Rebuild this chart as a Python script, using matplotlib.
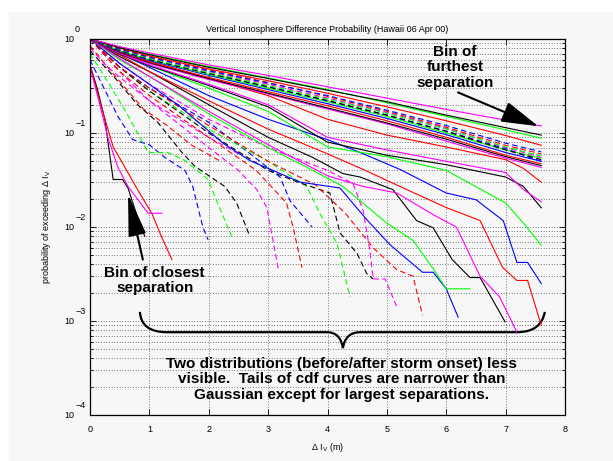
import matplotlib
matplotlib.use("Agg")
import matplotlib.pyplot as plt
from matplotlib.patches import Rectangle, PathPatch
from matplotlib.path import Path

plt.rcParams['font.family'] = ['Liberation Sans', 'DejaVu Sans']
plt.rcParams['mathtext.default'] = 'regular'

title = "Vertical Ionosphere Difference Probability (Hawaii 06 Apr 00)"
xlabel = "Δ I$_V$ (m)"
ylabel = "probability of exceeding Δ I$_V$"
xticks = [0, 1, 2, 3, 4, 5, 6, 7, 8]
ydecades = [-4, -3, -2, -1, 0]

# bins of largest separation, read at the same x points
far_x = [0, 0.5, 1, 2, 3, 4, 5, 6, 7, 7.6]
far_m1 = [1, 0.83, 0.71, 0.53, 0.41, 0.31, 0.235, 0.178, 0.137, 0.119]
far_k1 = [1, 0.81, 0.68, 0.50, 0.38, 0.285, 0.215, 0.155, 0.114, 0.095]
far_g1 = [1, 0.82, 0.69, 0.51, 0.385, 0.29, 0.21, 0.15, 0.108, 0.088]
far_r1 = [1, 0.80, 0.66, 0.48, 0.36, 0.265, 0.19, 0.135, 0.094, 0.074]
far_b1 = [1, 0.78, 0.64, 0.46, 0.34, 0.25, 0.175, 0.12, 0.078, 0.063]
far_r2 = [1, 0.79, 0.65, 0.47, 0.345, 0.245, 0.17, 0.115, 0.074, 0.060]
far_g2 = [1, 0.77, 0.62, 0.44, 0.32, 0.23, 0.162, 0.11, 0.071, 0.057]
far_k2 = [1, 0.76, 0.61, 0.43, 0.31, 0.222, 0.155, 0.104, 0.066, 0.052]
far_m2 = [1, 0.77, 0.63, 0.45, 0.33, 0.235, 0.165, 0.112, 0.070, 0.055]
far_g3 = [1, 0.75, 0.60, 0.42, 0.30, 0.215, 0.15, 0.10, 0.066, 0.054]
far_b2 = [1, 0.74, 0.59, 0.41, 0.29, 0.205, 0.143, 0.096, 0.062, 0.050]
far_r3 = [1, 0.73, 0.57, 0.39, 0.275, 0.195, 0.135, 0.09, 0.058, 0.047]
far_k3 = [1, 0.72, 0.56, 0.38, 0.265, 0.185, 0.128, 0.086, 0.056, 0.045]
far_b3 = [1, 0.75, 0.60, 0.43, 0.31, 0.22, 0.155, 0.105, 0.068, 0.050]
far_m3 = [1, 0.71, 0.55, 0.37, 0.26, 0.18, 0.125, 0.082, 0.054, 0.043]

# middle bins
mid_x = [0, 0.5, 1, 2, 3, 4, 5, 6, 7, 7.3, 7.6]
mid_r = [1, 0.74, 0.58, 0.38, 0.25, 0.14, 0.095, 0.071, 0.052, 0.042, 0.030]
mid_m = [1, 0.70, 0.53, 0.33, 0.20, 0.09, 0.066, 0.050, 0.038, 0.025, 0.0185]
mid_k = [1, 0.69, 0.52, 0.32, 0.19, 0.08, 0.058, 0.046, 0.034, 0.027, 0.016]
mid_g = [1, 0.70, 0.52, 0.30, 0.17, 0.071, 0.056, 0.040, 0.018, 0.011, 0.0064]

# bins whose tails reach the bottom of the sample
tail_b1_x = [0, 0.5, 1, 2, 3, 4, 4.55, 5.22, 6.0, 6.5, 6.96, 7.19, 7.37, 7.6]
tail_b1_p = [1, 0.7, 0.5, 0.25, 0.14, 0.085, 0.062, 0.041, 0.023, 0.0195, 0.0117, 0.0042, 0.0042, 0.0025]
tail_r1_x = [0, 0.5, 1, 2, 3, 4, 4.6, 5.22, 6.01, 6.57, 6.95, 7.19, 7.37, 7.6]
tail_r1_p = [1, 0.68, 0.45, 0.22, 0.11, 0.06, 0.041, 0.027, 0.016, 0.0117, 0.0037, 0.0027, 0.0027, 0.0009]
tail_m1_x = [0, 0.5, 1, 2, 3, 4, 4.6, 5.17, 5.78, 6.17, 6.57, 6.9, 7.19]
tail_m1_p = [1, 0.62, 0.4, 0.17, 0.075, 0.035, 0.027, 0.023, 0.0135, 0.01, 0.003, 0.0018, 0.00076]
tail_k1_x = [0, 0.5, 1, 2, 3, 3.75, 4.26, 4.55, 5.1, 5.5, 5.78, 6.1, 6.4, 6.57, 6.99]
tail_k1_p = [1, 0.65, 0.45, 0.2, 0.09, 0.055, 0.037, 0.034, 0.025, 0.0117, 0.0098, 0.0045, 0.0029, 0.0029, 0.00098]
tail_g1_x = [0, 0.5, 1, 2, 3, 3.6, 4.26, 5.0, 5.44, 5.78, 6.0, 6.4]
tail_g1_p = [1, 0.6, 0.4, 0.16, 0.07, 0.045, 0.027, 0.011, 0.0072, 0.0036, 0.0022, 0.0022]
tail_b2_x = [0, 0.5, 1, 1.52, 2.24, 2.69, 3.54, 4.21, 4.66, 5.05, 5.6, 5.78, 6.0, 6.2]
tail_b2_p = [1, 0.55, 0.33, 0.19, 0.078, 0.051, 0.03, 0.026, 0.012, 0.0065, 0.0033, 0.0033, 0.0022, 0.0011]

# dashed bins (other half of the day)
dash_r1_x = [0, 0.5, 1, 2, 3, 3.8, 4.3, 4.77, 5.17, 5.44, 5.6]
dash_r1_p = [1, 0.5, 0.3, 0.12, 0.05, 0.028, 0.014, 0.006, 0.0035, 0.003, 0.00115]
dash_m1_x = [0, 0.5, 1, 2, 3, 4, 4.43, 4.6, 4.71, 4.77, 4.97, 5.17]
dash_m1_p = [1, 0.55, 0.33, 0.14, 0.07, 0.04, 0.029, 0.015, 0.0058, 0.0028, 0.0028, 0.0014]
dash_g1_x = [0, 0.5, 1, 2, 3, 3.65, 3.87, 4.16, 4.38]
dash_g1_p = [1, 0.5, 0.28, 0.11, 0.05, 0.027, 0.014, 0.0067, 0.0018]
dash_k1_x = [0, 0.5, 1, 2, 3, 3.5, 4.04, 4.21, 4.5, 4.66, 4.77]
dash_k1_p = [1, 0.5, 0.28, 0.1, 0.04, 0.03, 0.023, 0.0087, 0.0052, 0.0032, 0.0028]
dash_r2_x = [0, 0.5, 1, 2, 2.8, 3.31, 3.42, 3.57]
dash_r2_p = [1, 0.45, 0.25, 0.09, 0.04, 0.018, 0.01, 0.0037]
dash_m2_x = [0, 0.5, 1, 2, 2.5, 2.81, 2.98, 3.17]
dash_m2_p = [1, 0.45, 0.22, 0.07, 0.04, 0.025, 0.016, 0.0036]
dash_b1_x = [0, 0.5, 1, 2, 2.7, 3.2, 3.37, 3.74]
dash_b1_p = [1, 0.5, 0.3, 0.13, 0.06, 0.034, 0.019, 0.01]
dash_g2_x = [0, 0.3, 0.6, 0.98, 1.31, 1.6, 1.99, 2.2, 2.39]
dash_g2_p = [0.7, 0.35, 0.17, 0.062, 0.062, 0.051, 0.032, 0.015, 0.0079]
dash_k2_x = [0, 0.4, 0.8, 1.14, 1.55, 1.77, 2.27, 2.47, 2.69]
dash_k2_p = [0.75, 0.4, 0.2, 0.13, 0.062, 0.044, 0.027, 0.018, 0.008]
dash_b2_x = [0, 0.47, 0.72, 1.0, 1.26, 1.6, 1.73, 1.9, 1.99]
dash_b2_p = [0.6, 0.15, 0.085, 0.075, 0.055, 0.04, 0.027, 0.01, 0.0073]
dash_r3_x = [0, 0.3, 0.6, 0.9, 1.3, 1.7, 2.2]
dash_r3_p = [0.85, 0.5, 0.3, 0.18, 0.12, 0.075, 0.05]
dash_m3_x = [0, 0.3, 0.6, 1.0, 1.5, 2.0, 2.5]
dash_m3_p = [0.8, 0.5, 0.35, 0.22, 0.14, 0.09, 0.06]

# bins of closest separation
near_k_x = [0, 0.12, 0.25, 0.39, 0.55, 0.64, 0.8, 0.92]
near_k_p = [0.53, 0.3, 0.14, 0.032, 0.032, 0.026, 0.0127, 0.008]
near_r_x = [0, 0.17, 0.39, 0.59, 0.8, 1.04, 1.2, 1.38]
near_r_p = [0.53, 0.21, 0.071, 0.043, 0.025, 0.014, 0.008, 0.0045]
near_m_x = [0, 0.15, 0.3, 0.47, 0.64, 0.98, 1.21]
near_m_p = [0.5, 0.22, 0.09, 0.043, 0.027, 0.014, 0.014]

C = {'r': '#ff0000', 'g': '#00ff00', 'b': '#0000ff', 'k': '#000000', 'm': '#ff00ff'}

curves = [
    (near_k_x, near_k_p, 'k', '-'), (near_r_x, near_r_p, 'r', '-'), (near_m_x, near_m_p, 'm', '-'),
    (dash_b2_x, dash_b2_p, 'b', '--'), (dash_g2_x, dash_g2_p, 'g', '--'), (dash_k2_x, dash_k2_p, 'k', '--'),
    (dash_r3_x, dash_r3_p, 'r', '--'), (dash_m3_x, dash_m3_p, 'm', '--'),
    (dash_m2_x, dash_m2_p, 'm', '--'), (dash_r2_x, dash_r2_p, 'r', '--'), (dash_b1_x, dash_b1_p, 'b', '--'),
    (dash_g1_x, dash_g1_p, 'g', '--'), (dash_k1_x, dash_k1_p, 'k', '--'), (dash_m1_x, dash_m1_p, 'm', '--'),
    (dash_r1_x, dash_r1_p, 'r', '--'),
    (tail_b2_x, tail_b2_p, 'b', '-'), (tail_g1_x, tail_g1_p, 'g', '-'), (tail_k1_x, tail_k1_p, 'k', '-'),
    (tail_m1_x, tail_m1_p, 'm', '-'), (tail_r1_x, tail_r1_p, 'r', '-'), (tail_b1_x, tail_b1_p, 'b', '-'),
    (mid_x, mid_g, 'g', '-'), (mid_x, mid_k, 'k', '-'), (mid_x, mid_m, 'm', '-'), (mid_x, mid_r, 'r', '-'),
    (far_x, far_m3, 'm', '-'), (far_x, far_k3, 'k', '-'), (far_x, far_r3, 'r', '-'), (far_x, far_b2, 'b', '-'),
    (far_x, far_g3, 'g', '-'), (far_x, far_b3, 'b', '--'), (far_x, far_m2, 'm', '--'), (far_x, far_k2, 'k', '--'),
    (far_x, far_g2, 'g', '--'), (far_x, far_r2, 'r', '--'), (far_x, far_b1, 'b', '--'),
    (far_x, far_r1, 'r', '-'), (far_x, far_g1, 'g', '-'), (far_x, far_k1, 'k', '-'), (far_x, far_m1, 'm', '-'),
]

fig = plt.figure(figsize=(6.13, 4.61), dpi=100, facecolor='white')
fig.patches.append(Rectangle((9 / 613, 0), 1, (461 - 12) / 461, transform=fig.transFigure,
                             color='#f7f7f7', zorder=-10))
ax = fig.add_axes([90 / 613, 46 / 461, 475 / 613, 376 / 461])
ax.set_facecolor('#f7f7f7')

for xs, ps, c, ls in curves:
    line, = ax.plot(xs, ps, color=C[c], lw=0.8)
    if ls == '--':
        line.set_dashes((5, 3))

ax.set_yscale('log')
ax.set_xlim(0, 8)
ax.set_ylim(1e-4, 1)
ax.set_xticks(xticks)
ax.set_xticklabels([str(t) for t in xticks], fontsize=6.5)
ax.set_yticks([10.0 ** d for d in ydecades])
ax.set_yticklabels([])
ax.tick_params(which='both', direction='in', top=True, right=True, width=0.6)
ax.tick_params(which='major', length=4, pad=7)
ax.tick_params(which='minor', length=2.5)
ax.grid(True, which='major', color='#222222', lw=0.6, dashes=(0.8, 2.4))
ax.yaxis.grid(True, which='minor', color='#222222', lw=0.6, dashes=(0.8, 2.4))
for s in ax.spines.values():
    s.set_linewidth(0.9)

# matlab style decade labels: "10" with the exponent raised on the right
for d in ydecades:
    ax.annotate('10', xy=(0, 10.0 ** d), xycoords=('axes fraction', 'data'), xytext=(-11.5, 0),
                textcoords='offset points', ha='right', va='center', fontsize=6.5)
    ax.annotate(str(d).replace('-', '\u2212'), xy=(0, 10.0 ** d), xycoords=('axes fraction', 'data'),
                xytext=(-10.8, 7), textcoords='offset points', ha='left', va='center', fontsize=6.5)

ax.set_title(title, fontsize=6.5, pad=5)
ax.set_xlabel(xlabel, fontsize=6.5)
ax.set_ylabel(ylabel, fontsize=6.5)
ax.xaxis.set_label_coords(0.5, -26 / 376)
ax.yaxis.set_label_coords(-37 / 475, 0.5)

# notes
ax.text(6.15, 0.50, "Bin of\nfurthest\nseparation", ha='center', va='center', fontsize=11,
        fontweight='bold', linespacing=1.15)
ax.annotate('', xy=(7.55, 0.118), xytext=(6.2, 0.27),
            arrowprops=dict(arrowstyle='-|>,head_length=2.3,head_width=0.65', mutation_scale=10,
                            lw=1.5, color='k', shrinkA=0, shrinkB=0))
ax.text(1.09, 0.0027, "Bin of closest\nseparation", ha='center', va='center', fontsize=11,
        fontweight='bold', linespacing=1.15)
ax.annotate('', xy=(0.64, 0.0224), xytext=(0.89, 0.0045),
            arrowprops=dict(arrowstyle='-|>,head_length=2.6,head_width=0.55', mutation_scale=10,
                            lw=1.5, color='k', shrinkA=0, shrinkB=0))

brace_y = 7.6e-4
brace_verts = [(0.84, 1.25e-3), (0.86, brace_y), (1.3, brace_y), (3.99, brace_y),
               (4.22, brace_y), (4.26, 5.15e-4), (4.30, brace_y), (4.55, brace_y),
               (7.19, brace_y), (7.6, brace_y), (7.66, 1.25e-3)]
brace_codes = [Path.MOVETO, Path.CURVE3, Path.CURVE3, Path.LINETO,
               Path.CURVE3, Path.CURVE3, Path.CURVE3, Path.CURVE3,
               Path.LINETO, Path.CURVE3, Path.CURVE3]
ax.add_patch(PathPatch(Path(brace_verts, brace_codes), fill=False, lw=1.6, color='k',
                       transform=ax.transData, clip_on=False))

ax.text(4.24, 2.4e-4, "Two distributions (before/after storm onset) less\n"
        "visible.  Tails of cdf curves are narrower than\n"
        "Gaussian except for largest separations.",
        ha='center', va='center', fontsize=11, fontweight='bold', linespacing=1.15)

fig.savefig('out.png', dpi=100, facecolor=fig.get_facecolor())
